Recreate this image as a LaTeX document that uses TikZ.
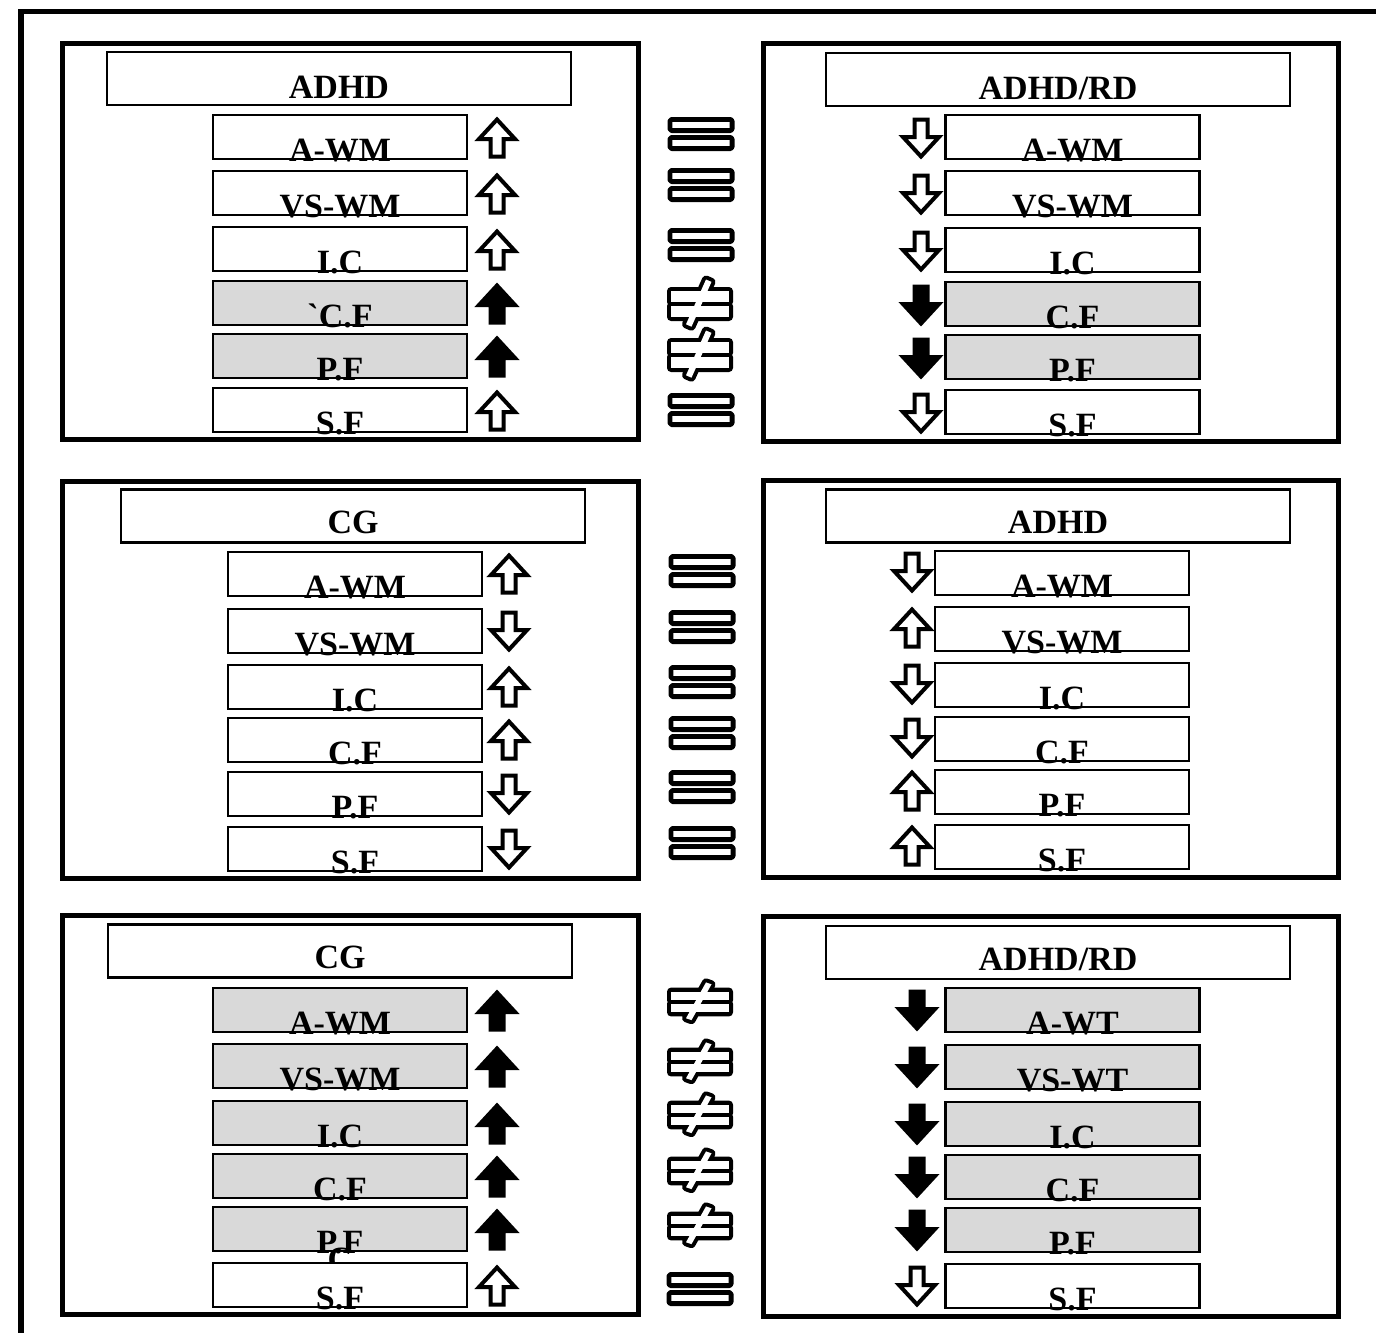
\documentclass[tikz,border=0pt]{standalone}
\usepackage{fontspec}
\setmainfont{Liberation Serif}[Ligatures=TeXOff]
\usepackage{tikz}
\usetikzlibrary{calc}
\definecolor{BoxGray}{RGB}{217,217,217}

\tikzset{
  frame/.style={line width=2.75pt},
  panel/.style={line width=2.5pt},
  headbox/.style={draw, line width=1.1pt, fill=white, minimum width=232pt, minimum height=26.5pt, inner sep=0pt},
  itembox/.style={draw, line width=1.1pt, minimum width=127pt, minimum height=22pt, inner sep=0pt},
  boxtext/.style={font=\bfseries\fontsize{17pt}{20pt}\selectfont, inner sep=0pt, anchor=base},
  blockarrow/.pic={
    \draw[line width=2pt, line join=miter, fill=#1]
      (0,-18.5) -- (18,1) -- (6.5,1) -- (6.5,18.5) -- (-6.5,18.5) -- (-6.5,1) -- (-18,1) -- cycle;
  },
  eqsign/.pic={
    \draw[line width=2.4pt, fill=white, line join=round, rounded corners=0.8pt]
      (-31.1,-14.6) rectangle (31.1,-3.4) (-31.1,3.4) rectangle (31.1,14.6);
  },
  neqsign/.pic={
    % outline of the union first, then the white insides
    \draw[line width=4pt, line join=round]
      (-29,-13) rectangle (29,-2) (-29,2) rectangle (29,13)
      (6,-24.5) -- (11.5,-22.1) -- (-8.5,22.7) -- (-14,20.3) -- cycle;
    \fill[white] (-29,-13) rectangle (29,-2);
    \fill[white] (-29,2) rectangle (29,13);
    \fill[white] (6,-24.5) -- (11.5,-22.1) -- (-8.5,22.7) -- (-14,20.3) -- cycle;
  }
}

\begin{document}
\begin{tikzpicture}[x=0.5pt, y=-0.5pt]
  \useasboundingbox (0,0) rectangle (1376,1333);
  \draw[frame] (21,1345) -- (21,11.5) -- (1390,11.5);

  % top left: ADHD
  \draw[panel] (62.5,43) rectangle (638.5,439);
  \node[headbox] (tl-head) at (339,78.5) {};
  \node[boxtext] (tl-head-t) at ([yshift=4pt]tl-head.south) {ADHD};
  \foreach \y/\lbl/\fc/\ac [count=\i] in {115/A-WM/white/white, 171/VS-WM/white/white,
      227/I.C/white/white, 281/`C.F/BoxGray/black, 334/P.F/BoxGray/black, 388/S.F/white/white}{
    \node[itembox, fill=\fc] (tl-\i) at (340,\y+22) {};
    \node[boxtext] (tl-\i-t) at ([yshift=-0.75pt]tl-\i.south) {\lbl};
    \pic at (497,\y+23) {blockarrow=\ac};
  }

  % top right: ADHD/RD
  \draw[panel] (763,43.5) rectangle (1338.5,441.5);
  \node[headbox] (tr-head) at (1058,79.5) {};
  \node[boxtext] (tr-head-t) at ([yshift=4pt]tr-head.south) {ADHD/RD};
  \foreach \y/\lbl/\fc/\ac [count=\i] in {115/A-WM/white/white, 171/VS-WM/white/white,
      228/I.C/white/white, 282/C.F/BoxGray/black, 335/P.F/BoxGray/black, 390/S.F/white/white}{
    \node[itembox, fill=\fc] (tr-\i) at (1072.5,\y+22) {};
    \node[boxtext] (tr-\i-t) at ([yshift=-0.75pt]tr-\i.south) {\lbl};
    \pic[rotate=180] at (921,\y+23) {blockarrow=\ac};
  }

  % middle left: CG
  \draw[panel] (62.5,481) rectangle (638,878);
  \node[headbox] (ml-head) at (353,516) {};
  \node[boxtext] (ml-head-t) at ([yshift=5pt]ml-head.south) {CG};
  \foreach \y/\lbl/\rot [count=\i] in {552/A-WM/0, 609/VS-WM/180, 665/I.C/0,
      718/C.F/0, 772/P.F/180, 827/S.F/180}{
    \node[itembox, fill=white] (ml-\i) at (355,\y+22) {};
    \node[boxtext] (ml-\i-t) at ([yshift=-0.75pt]ml-\i.south) {\lbl};
    \pic[rotate=\rot] at (509,\y+22) {blockarrow=white};
  }

  % middle right: ADHD
  \draw[panel] (763,480) rectangle (1338.5,877.5);
  \node[headbox] (mr-head) at (1058,516) {};
  \node[boxtext] (mr-head-t) at ([yshift=5pt]mr-head.south) {ADHD};
  \foreach \y/\lbl/\rot [count=\i] in {551/A-WM/180, 607/VS-WM/0, 663/I.C/180,
      717/C.F/180, 770/P.F/0, 825/S.F/0}{
    \node[itembox, fill=white] (mr-\i) at (1062,\y+22) {};
    \node[boxtext] (mr-\i-t) at ([yshift=-0.75pt]mr-\i.south) {\lbl};
    \pic[rotate=\rot] at (912,\y+21) {blockarrow=white};
  }

  % bottom left: CG
  \draw[panel] (62.5,915) rectangle (638.5,1314.5);
  \node[headbox] (bl-head) at (340,951) {};
  \node[boxtext] (bl-head-t) at ([yshift=5pt]bl-head.south) {CG};
  \foreach \y/\lbl [count=\i] in {988/A-WM, 1044/VS-WM, 1101/I.C, 1154/C.F, 1207/P.F}{
    \node[itembox, fill=BoxGray] (bl-\i) at (340,\y+22) {};
    \node[boxtext] (bl-\i-t) at ([yshift=-0.75pt]bl-\i.south) {\lbl};
    \pic at (497,\y+23) {blockarrow=black};
  }
  \node[boxtext] (bl-5-x) at ([yshift=-8.5pt]bl-5-t.base) {C};
  \node[itembox, fill=white] (bl-6) at (340,1285) {};
  \node[boxtext] (bl-6-t) at ([yshift=-0.75pt]bl-6.south) {S.F};
  \pic at (497,1286) {blockarrow=white};

  % bottom right: ADHD/RD
  \draw[panel] (763,916) rectangle (1338.5,1316.5);
  \node[headbox] (br-head) at (1058,952.5) {};
  \node[boxtext] (br-head-t) at ([yshift=5pt]br-head.south) {ADHD/RD};
  \foreach \y/\lbl/\fc/\ac [count=\i] in {988/A-WT/BoxGray/black, 1045/VS-WT/BoxGray/black,
      1102/I.C/BoxGray/black, 1155/C.F/BoxGray/black, 1208/P.F/BoxGray/black, 1264/S.F/white/white}{
    \node[itembox, fill=\fc] (br-\i) at (1072.5,\y+22) {};
    \node[boxtext] (br-\i-t) at ([yshift=-0.75pt]br-\i.south) {\lbl};
    \pic[rotate=180] at (917,\y+22) {blockarrow=\ac};
  }

  % comparison signs between the panels
  \foreach \y in {134,185,245,410} \pic at (701,\y) {eqsign};
  \foreach \y in {304,355} \pic at (700,\y) {neqsign};
  \foreach \y in {571,627,682,733,787,843} \pic at (702,\y) {eqsign};
  \foreach \y in {1002,1062,1115,1171,1226} \pic[yscale=0.8] at (700,\y) {neqsign};
  \pic at (700,1289) {eqsign};
\end{tikzpicture}
\end{document}
